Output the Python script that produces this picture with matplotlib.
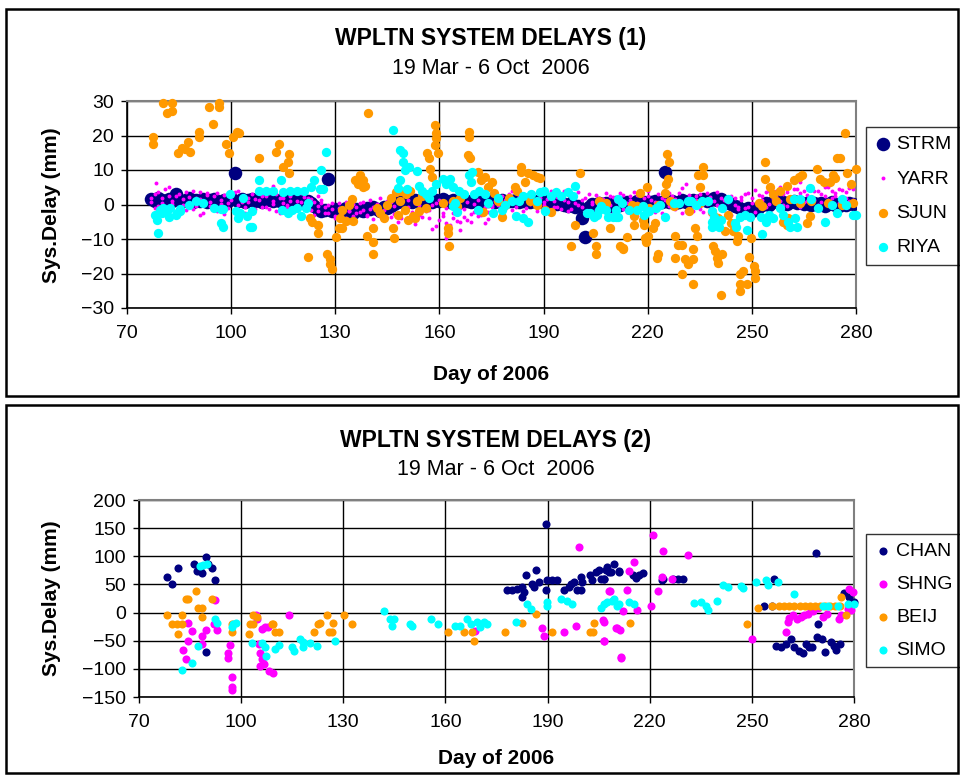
import matplotlib
matplotlib.use("Agg")
import matplotlib.pyplot as plt
from matplotlib.patches import Rectangle

plt.rcParams['font.family'] = ['Liberation Sans', 'DejaVu Sans']

# ---------------- panel 1 data ----------------
days1 = list(range(77, 280))

strm = [1.5, 1.0, 2.0, 1.2, 0.8, 1.6, 1.0, 3.0, 1.4, 0.9,
        1.2, 1.8, 0.7, 1.3, 1.0, 1.6, 0.8, 1.2, 1.5, 1.0,
        0.6, 1.3, 1.1, 1.8, 9.0, 1.0, 1.5, 0.8, 1.2, 1.7,
        1.0, 1.4, 0.6, 1.2, 1.5, 0.9, 1.3, 1.0, 1.6, 1.1,
        0.8, 1.4, 1.0, 1.2, 0.5, 0.9, 0.3, -0.5, -1.2, -1.8,
        -1.5, 7.5, -2.0, -1.4, -2.2, -1.6, -1.0, -1.8, -2.4, -1.2,
        -1.6, -2.0, -1.0, -1.4, -0.6, -1.2, -1.8, -0.8, -1.0, -0.4,
        0.2, 0.8, 1.0, 0.6, 1.2, 0.8, 1.4, 1.0, 0.7, 1.3,
        1.0, 0.6, 1.2, 0.9, 1.5, 1.0, 0.8, 1.3, 1.1, 0.7,
        1.2, 1.0, 0.8, 1.4, 1.0, 0.6, 1.1, 0.9, 1.3, 0.8,
        1.0, 1.2, 0.7, 1.1, 0.9, 1.3, 0.8, 1.0, 1.2, 0.6,
        1.0, 0.8, 1.2, 0.5, 0.9, 0.4, 0.8, 0.2, 0.6, 0.0,
        -0.5, 0.3, -0.8, -0.4, -3.8, -9.3, -0.6, 0.2, -0.3, 0.5,
        -0.2, 0.4, -0.5, 0.1, 0.6, -0.2, 0.3, 0.8, 0.2, 0.5,
        1.0, 0.4, 0.8, 0.2, 0.6, 1.0, 0.4, 0.8, 9.3, 0.6,
        1.0, 0.5, 0.8, 1.2, 0.6, 1.0, 1.4, 0.8, 1.2, 1.6,
        1.0, 1.4, 1.8, 1.2, 1.6, 1.0, 0.6, 0.2, -0.4, -0.8,
        -1.2, -1.6, -1.0, -1.8, -1.4, -0.6, -0.2, 0.4, 0.0, 0.6,
        1.0, 0.4, 0.8, 0.2, 0.6, 1.0, 0.3, 0.7, 0.2, 0.5,
        0.0, 0.4, -0.2, 0.3, -0.4, 0.2, 0.6, 0.0, -0.3, 0.4,
        0.0, 0.5, 0.2]

yarr_a = [2.0, -1.0, 3.5, 0.5, -2.0, 2.5, 1.0, -3.0, 3.0, 0.0,
          -1.5, 2.2, 4.0, -0.5, 1.5, -2.5, 2.8, 0.8, -1.0, 3.2,
          1.2, -2.8, 0.4, 2.6, -1.8, 3.8, 0.6, -0.8, 2.0, -2.2,
          1.6, 4.5, -0.6, 2.4, -1.4, 0.2, 3.0, -2.6, 1.8, 0.0,
          2.6, -1.2, 1.0, 3.4, -0.4, 2.0, -1.6, 0.6, -2.0, 1.4,
          -0.8, -2.4, 0.4, -3.2, -1.0, -2.6, 0.8, -1.8, -3.4, -0.6,
          -2.2, 0.6, -3.0, -1.2, -4.2, 0.2, -2.8, -1.6, 1.0, -3.6,
          -0.4, -5.0, 1.6, -2.0, -0.8, -4.6, 0.4, -3.0, 2.0, -1.4,
          -4.0, -0.2, -6.2, 1.2, -3.2, -5.4, 0.6, -2.4, -4.8, -1.0,
          -3.6, 0.8, -5.0, -2.2, 1.4, -3.0, -0.6, -4.2, 0.0, -1.8,
          2.2, -0.8, 1.2, 3.0, -1.6, 0.6, 2.4, -2.0, 1.8, 0.2,
          3.4, -0.4, 2.0, 0.8, -1.2, 2.6, 1.0, -0.6, 3.0, 1.4,
          -1.8, 2.4, 0.4, 3.6, -0.8, 1.8, -2.4, 0.8, 2.8, -1.0,
          1.6, 3.2, -0.2, 2.2, -1.4, 0.6, 2.8, -2.2, 1.2, 3.6,
          0.4, -3.4, 1.8, 2.6, -1.8, 0.8, 3.0, -2.6, 1.4, -0.4,
          2.4, -1.2, 0.2, 4.8, -2.0, 1.6, -0.6, 2.6, -1.4, 0.8,
          3.2, -2.8, 1.0, -0.2, 2.0, -1.6, 0.6, -3.0, 1.8, -0.8,
          2.2, -1.0, 3.4, 0.4, -2.2, 2.8, 1.2, 3.6, 0.2, 2.4,
          4.0, 1.0, 3.0, -0.4, 2.2, 4.4, 1.6, 3.2, 0.6, 2.8,
          4.6, 1.4, 3.8, 0.8, 2.6, 5.0, 1.8, 3.4, 0.4, 4.2,
          2.0, 4.8, 1.2]

yarr_b = [0.8, 3.0, -0.5, 1.8, 4.5, -1.5, 0.2, 2.4, -2.2, 1.6,
          3.6, 0.4, -1.2, 2.0, -3.0, 1.0, 3.4, -0.4, 2.6, -1.8,
          0.2, 2.8, -1.0, 1.4, 3.6, -0.2, 2.2, -2.4, 0.8, 3.0,
          -1.2, 1.2, 2.6, -0.8, 3.4, 1.0, -1.8, 2.0, 0.4, -0.6,
          1.0, 3.8, -0.2, 0.6, 2.2, -1.0, 1.6, -3.0, -0.4, 0.4,
          -2.6, 0.0, -1.4, -3.8, 0.4, -1.2, -4.0, -2.0, 0.2, -2.6,
          0.4, -1.6, -3.2, 1.2, -0.8, -2.6, 2.0, -4.4, -0.6, 0.8,
          -2.8, 0.6, -3.8, -1.2, 1.4, -2.2, -5.6, 0.0, -3.6, -2.0,
          -1.6, -7.0, 0.4, -4.4, -2.6, -1.0, -6.0, -3.8, -0.4, -5.2,
          -1.2, -4.6, -2.8, 0.2, -3.4, -1.6, -5.4, -2.2, -0.8, 1.0,
          0.0, 2.6, -1.4, 1.6, 3.8, -0.6, 0.8, 2.8, -1.0, 3.4,
          1.0, -1.8, 2.8, 0.0, 1.6, 4.0, -0.8, 2.2, -1.4, 3.8,
          0.6, -1.2, 2.6, -0.2, 1.4, -2.8, 3.0, 0.2, -1.6, 2.0,
          -0.6, 0.8, 2.4, -2.6, 1.0, 3.4, -1.2, 0.4, 2.6, -1.8,
          2.8, 0.2, -1.0, 3.8, 1.2, -2.2, 0.0, 2.0, -3.2, 3.2,
          -0.8, 1.6, 3.4, -2.4, 0.6, 2.8, -1.8, 1.2, 3.0, -2.2,
          0.2, 2.2, -1.6, 3.6, -0.4, 1.4, -2.6, 2.4, 0.0, -1.4,
          1.2, 3.0, -0.6, 1.8, 4.2, 0.0, 2.6, -0.8, 3.8, 1.6,
          2.4, 5.0, -0.2, 3.6, 1.2, 2.0, 4.6, -0.6, 3.8, 1.0,
          2.2, 4.0, -0.2, 3.0, 5.2, 1.2, 3.8, 2.4, 4.6, 0.8,
          3.6, 1.0, 4.4]

yarr_extra_day = [78.4, 82.0, 91.0, 112.0, 125.0, 162.0, 166.0, 231.0, 264.0]
yarr_extra_val = [6.1, 5.0, 3.5, 5.5, 2.5, -9.6, -7.5, 6.0, 6.5]

sjun = [(77.5, 19.5), (77.5, 17.5), (80.4, 29.4), (81.5, 26.5), (83, 29.4), (83, 27),
        (84.7, 14.9), (85.9, 16.3), (86.7, 16), (87.6, 18), (88.2, 15.2), (90.7, 21),
        (90.7, 19.5), (93.6, 28.3), (94.8, 23.3), (96.5, 29.4), (96.5, 28.3), (98.5, 17.5),
        (99.4, 14.9), (100.5, 19.5), (101.7, 21), (102.3, 20.7), (108, 13.4), (113, 15.2),
        (113.8, 17.5), (115, 11), (116.4, 12.2), (116.7, 14.6), (116.7, 9), (122.2, -15.2),
        (122.7, -4), (123.3, -5), (125, -5.8), (125, -8.2), (127.6, -14.3), (128.5, -15.7),
        (128.5, -17.2), (129, -18.7), (130.2, -9.3), (131, -6.7), (132, -6.7), (133, -4.7),
        (131.3, -4), (132, -1.7), (134, 0), (134.8, 1.5), (135, -4.7), (135.7, 7), (136.6, 6),
        (137.2, 8.5), (138.6, 5.5), (139.5, 26.5), (139, -9), (138, 7), (138, 5),
        (141, -6.7), (141, -10.8), (141, -14.3), (142, -1), (143, -2.5), (144, -4), (145, 0),
        (146, 2), (146.7, -6.7), (147, -9.6), (147.5, 3.5), (148, -3), (148.5, 1), (149, 4),
        (150, -1.5), (150.5, 3), (151, -4.5), (151.5, 4), (152.4, -3.2), (153, -4), (153.5, 1),
        (154, -2), (155, 2.5), (156, -1), (156.5, 14.9), (157, 13.4), (157.3, 10.2), (158, 7.9),
        (158.8, 23), (159, 20.7), (159, 19.2), (158.8, 17.2), (159.6, 14.9), (161, 0.3),
        (162.5, -6.7), (162.5, -8.2), (162.8, -12), (164, 1), (165, -0.5), (166, 2),
        (168.5, 21), (168.5, 19.5), (168.2, 14.3), (168.8, 13.4), (171, 9.3), (172, 7),
        (173, 8), (174, 5), (175, 6.5), (175.6, 3.2), (172.6, -2.3), (178, -3.5), (177, 1),
        (179, 0), (180, 2), (181.8, 5), (182.4, 4), (183.5, 11), (183.5, 9.3), (184.7, 6.4),
        (185.6, 9), (187, 8.5), (188.2, 7.9), (189, 7.6), (186, 1), (188, 0), (190.5, -1.7),
        (192, -2.3), (198, -12), (199, -5.8), (200.5, 9), (204.3, -8.2), (205, -12),
        (205, -14.3), (206, 1), (208, 0.5), (209, -6.7), (212, -12), (213, -12.5), (213, -13),
        (214, -9.3), (216, -5.8), (216, -3.2), (215.5, 0), (217, -0.5), (218.5, -4.4),
        (218.8, -5.8), (219.3, -9.6), (219.6, -11), (220, -9), (219.9, 5), (217.8, 3.2),
        (220.5, -1), (221.6, -6.7), (222.2, -5.5), (223, -14.3), (222.7, -15.5), (223, 0),
        (225.6, 14.6), (226.2, 12.2), (225.3, 6), (225.9, 7.3), (225, 3.2), (226.5, 1),
        (227.5, -0.5), (228, -9), (228.8, -11.7), (230, -11.7), (228, -15.5), (230, -20.1),
        (230.8, -15.7), (231.7, -17.2), (232, -2), (233.1, -15.7), (233.1, -12.8), (233.1, -23),
        (233.7, -6.7), (234.3, -9), (234.6, 8.5), (235, 5), (235, 0.5), (236, 11), (236, 8.5),
        (238.6, -2.3), (239.4, -3.5), (240.3, -4), (238.9, -12), (239.4, -13.4), (240.3, -16.9),
        (241.5, -14.3), (240, -15.5), (241.2, -26.2), (242.3, -7.6), (243, -3), (244, -5.5),
        (244.6, -7.6), (245.8, -10.5), (246, -9), (246.7, -20.1), (247.5, -19.2), (246.7, -23),
        (248.7, -23), (246.7, -25), (249.3, -15.2), (250.7, -17.8), (251, -19.2), (251, -21.3),
        (249.8, -9.6), (252, 0.5), (253.9, 12.2), (253.9, 7.3), (253, -0.3), (255.3, 5),
        (256, 3), (257, 1), (258, 4), (259, -5.2), (260, -6), (260.5, -4), (260, 5.5),
        (261, 1.5), (262, 7), (263.5, 8), (264.5, 8.5), (264, 0.5), (266, -5.5), (266.8, -3.2),
        (267, 1), (268.9, 10.2), (269.7, 7.3), (270.9, 6.4), (272, 0.5), (272.6, 6.4),
        (273.5, 8.5), (274, 7.6), (274.6, 13.4), (275.5, 13.4), (276, 0), (276.9, 20.7),
        (277.5, 9), (278.7, 6), (279.9, 10.2), (279, 0.5)]

riya = [(79, -8.2), (78, -3), (78.5, -4.5), (79.5, -1.5), (80, -2.5), (80.5, -1), (81.5, -2),
        (82, -3.5), (82.5, -1), (84, -3), (84.5, -2.5), (85.3, -1.2), (85.3, -2), (88, 0),
        (90, 1), (92, 0.5), (95, -1), (97, -5.5), (97.7, -6.4), (97, -1.2), (97.7, -1.2),
        (99.7, 3), (101.5, -2), (102, -4), (102.5, -2.5), (103.5, 2), (104.6, -3.2),
        (105.5, -6.4), (106, -6.4), (106, -2), (108, 7), (108, 4), (110, 4), (112, 4),
        (114.5, 7), (115, 3.5), (117, 4), (119, 4), (121, 4), (124, 7), (123, 5), (122, 0.5),
        (114.7, -1.7), (116.5, -2.5), (117.5, -1.7), (119, -1), (120, -3.2), (121.6, -1),
        (125.8, 10.1), (127.3, 15.1), (125.6, 4.6), (126.5, 4.6),
        (146.7, 21.6), (148.7, 15.7), (149.5, 14.9), (149.5, 12.2), (150, 10), (148.5, 7),
        (148, 4.7), (151.3, 10.8), (153.6, 9.6), (150.7, 4.5), (154, 5.5), (155, 4), (156, 3),
        (157, 2), (158, 4), (159, 6), (161, 7.5), (162, 6), (163, 7.5), (164, 5), (165.5, 4),
        (167, 3), (169, 6.5), (170, 3), (171.5, 4), (173, 3), (168.5, 8.5), (169.5, 9.5),
        (164, -0.3), (165, -2.3), (164.5, 0.5), (171, -1.5), (175.5, -2.5), (174, 0.5),
        (177, 2), (178, -1.5), (179, 0), (181, 1), (182, -3.2), (184, -3.8), (185.5, -5.2),
        (183, 1), (184, 2.5), (186.5, 3), (188, 1), (189, 3.5), (190, 4), (190.5, -2),
        (192, 2.5), (193.5, 3.5), (195, 2.5), (197, 3.5), (198.5, 2.5), (199, 5.5),
        (202.5, -2.6), (203.5, -2.6), (204.5, -3.5), (205.5, -3), (206.5, -0.5), (208, -1.5),
        (210, -3.5), (211, -1.5), (211.5, -3.5), (206, -1.5), (208.5, -3.6), (211, -3.6),
        (211.5, 1.5), (212.5, 0.5), (214.5, -1.5), (217, -1.5), (218.5, -0.5), (219, -3),
        (220.5, -2), (222.5, -1), (223.5, 0), (225, -3.5), (227.5, 0.5), (229, 0.5),
        (231.5, 1), (232.5, 1), (234, 0), (235.5, 1), (237.5, 1), (238.5, -2), (239, -3.5),
        (238.5, -5), (238.5, -6.5), (239.5, -5.5), (240.5, -6.5), (241, -4.5), (241.5, -1),
        (243, 1.5), (245, -5.5), (245.5, -6.5), (246.5, -3.5), (248, -3), (248.5, -7.5),
        (249.5, -3.5), (252.5, -3.5), (253, -8.5), (254, -5), (255, -3), (256, -4), (258, -1),
        (259, -3), (260.5, -5), (261, -6.5), (262.5, -4), (263, -6.5), (262, 1.5), (264, 1.5),
        (266.8, 4.7), (267, 1.5), (269, -1), (271, -5), (273, 0), (274.5, -2.5), (276, 1.5),
        (277, 0), (279, -3), (280, -3)]

# ---------------- panel 2 data ----------------
chan = [(78.2, 62.5), (79.7, 50), (81.5, 79), (86.2, 86), (87, 73), (88.5, 70), (88, 75),
        (89.7, 98), (90.3, 86), (91.5, 79), (92.4, 57), (89.7, -70),
        (189.4, 157), (178.2, 40.5), (179.6, 40.5), (181.1, 42.3), (182.6, 45), (183, 36),
        (182.6, 27), (183.7, 66), (186.5, 76), (185.5, 51), (186, 45), (187.4, 54),
        (189.4, 40.5), (189.9, 57), (191.4, 57), (192.8, 57), (194.8, 40.5), (196.2, 45),
        (196.8, 51), (197.7, 54), (198.7, 40.5), (199.7, 40.5), (199.7, 63), (200.2, 54),
        (202.6, 66), (203.1, 57), (204.1, 72), (205.1, 75), (205.6, 60), (206.6, 60),
        (207.1, 75), (207.6, 81), (208, 72), (209.5, 86), (211, 72), (206.5, 60), (208.5, 72),
        (210.9, 73), (215, 66), (215.9, 62), (216.8, 66), (218, 70), (223.5, 57), (223.8, 60),
        (226.8, 60), (228.2, 60), (229.7, 60), (253.5, 11), (256.5, 60), (255.9, 11),
        (268.8, 105), (269.4, -21), (257, -59), (258.6, -62), (260, -56), (261.5, -47),
        (262.5, -62), (263.9, -68), (264.9, -71), (265.9, -56), (266.8, -62), (267.8, -62),
        (269.2, -44), (270.7, -47), (271.6, -70), (273.1, -53), (274.1, -59), (274.6, -66),
        (276, -55), (277, 34), (278.5, 27), (280, 18)]

shng = [(84.3, -19), (85.5, -32), (84.3, -50), (83, -67), (83.7, -83), (88.4, -41),
        (89.7, -31), (88.4, -55), (92.4, 23), (92, -20), (93, -31), (96.8, -57), (96, -71),
        (96, -80), (97.3, -115), (97.3, -132), (97.3, -138), (104.3, -5), (104.6, -11),
        (106.1, -29), (107, -25), (108, -26), (105.3, -55), (105.4, -71), (106.1, -83),
        (105.4, -95), (106.8, -92), (108.3, -104), (109.5, -108), (114.2, -5), (168.8, -32),
        (188.4, -27), (188.9, -41), (194.8, -34), (198.4, -24), (199.2, 117), (206.6, -16),
        (206.6, -50), (208.3, 38), (210.5, -27), (211.5, -80), (208, 37.5), (213.4, 40.5),
        (213.9, 73), (215.4, 89), (212.3, 2), (216.4, 5), (206.4, -14), (210, -27),
        (211.2, -31), (206.6, -51), (211.7, -79), (221.1, 137), (224, 109), (231.1, 102),
        (223.5, 63), (226.5, 60), (222.3, 37.5), (220.5, 11), (250, -47), (260, -35),
        (260.5, -17), (262, -5), (263.4, -11), (264.4, -8), (265.4, -5), (267.4, 7),
        (269.3, 9), (270.8, -8), (275.7, -11), (276.2, -5), (278.1, 7), (278.6, 42),
        (279.6, 36), (279.1, 4), (261, -10), (266.5, -2), (268, 2), (272, -3)]

beij = [(78.3, -5), (79.6, -21), (81.4, -38), (82.6, -5), (82.6, -21), (81.1, -21),
        (83.8, 24), (84.5, 24), (86.8, 37.5), (87.2, 8), (88.4, 8), (88.4, -8), (91.4, 24),
        (97.3, -21), (97.3, -35), (103.6, -5), (104.6, -7), (102.6, -21), (103.6, -21),
        (102.4, -38), (109, -21), (109.5, -21), (110, -35), (111, -35), (121.3, -35),
        (122.7, -21), (123.2, -19), (125.2, -5), (127.1, -19), (125.7, -35), (126.7, -35),
        (130.1, -5), (132.6, -21), (160.7, -34), (165.4, -34), (167.8, -34), (168.3, -50),
        (177.6, -34), (182.6, -18), (186.7, -2), (191.2, -34), (202.4, -34), (203.6, -18),
        (203.4, -34), (214.1, -18), (248.7, -21), (251.7, 8), (255.8, 11), (258, 11),
        (259.5, 11), (261, 11), (262.5, 11), (264, 11), (265.5, 11), (267, 11), (268.5, 11),
        (270, 11), (271.5, 11), (273, 11), (274.5, 11), (276, 11), (277.6, -5), (276.2, 27)]

simo = [(88.9, 84), (90.1, 86), (87.9, 82), (92.4, -11), (93, -19), (87.4, -59), (85.5, -89),
        (82.6, -102), (97.3, -26), (97.7, -20), (98.5, -18), (103.1, -54), (106.1, -54),
        (107, -62), (107.4, -77), (110, -65), (111, -57), (114.9, -62), (115.4, -69),
        (117.4, -47), (118.3, -53), (118.3, -62), (120.3, -54), (122.3, -59), (127.6, -50),
        (141.9, 2), (143.8, -11), (144.8, -11), (144.3, -23), (149.7, -20), (150.2, -23),
        (155.8, -11), (157.7, -20), (162.9, -23), (164.4, -23), (166.4, -11), (167.4, -20),
        (169.3, -17), (170.3, -26), (171.3, -16), (172.3, -20), (180.6, -17), (184, 16),
        (185, 7), (189.9, 18), (189.9, 12), (193.8, 24), (195.8, 21), (197.3, 16), (205.6, 9),
        (207.6, 18), (209.5, 24), (211, 16), (206.6, 16), (209, 21), (210.5, 12), (213.9, 18),
        (215.4, 16), (233, 17), (235, 18), (236.5, 12), (237, 4), (239.9, 21), (241.4, 49),
        (242.9, 46), (246.8, 48), (247.3, 43), (251.2, 54), (254.1, 57), (254.6, 49),
        (257.6, 54), (262.4, 33), (270.8, 12), (272.3, 11), (275.2, 12), (278.1, 16), (280, 16)]

xticks = [70, 100, 130, 160, 190, 220, 250, 280]
yticks1 = [-30, -20, -10, 0, 10, 20, 30]
yticks2 = [-150, -100, -50, 0, 50, 100, 150, 200]

NAVY = '#000080'
MAG = '#FF00FF'
ORG = '#FF9900'
CYAN = '#00FFFF'

W, H = 960, 776
fig = plt.figure(figsize=(W / 100, H / 100), dpi=100)


def fx(px):
    return px / W


def fy(py):
    return 1 - py / H


# panel frames
for (x0, y0, x1, y1) in [(6, 9, 958, 396), (6, 405, 958, 773)]:
    fig.patches.append(Rectangle((fx(x0), fy(y1)), fx(x1 - x0), (y1 - y0) / H,
                                 transform=fig.transFigure, fill=False,
                                 edgecolor='black', linewidth=1.8))


def style_axes(ax, yticks):
    ax.set_xlim(70, 280)
    ax.set_ylim(yticks[0], yticks[-1])
    ax.set_xticks(xticks)
    ax.set_yticks(yticks)
    ax.grid(True, color='black', linewidth=1.0)
    ax.set_axisbelow(True)
    ax.tick_params(direction='out', length=4.3, width=1, labelsize=14)
    ax.tick_params(axis='x', pad=8)
    ax.tick_params(axis='y', pad=5)
    for s in ['top', 'right']:
        ax.spines[s].set_color('#808080')
        ax.spines[s].set_linewidth(1.5)
    for s in ['left', 'bottom']:
        ax.spines[s].set_color('black')
        ax.spines[s].set_linewidth(1.2)


def leg(ax, top, spacing):
    lg = ax.legend(loc='upper left', bbox_to_anchor=(fx(866), fy(top)),
                   bbox_transform=fig.transFigure, frameon=True, fancybox=False,
                   edgecolor='black', fontsize=14, labelspacing=spacing,
                   handletextpad=0.3, borderpad=0.45, handlelength=0.8,
                   borderaxespad=0)
    lg.get_frame().set_linewidth(1.0)


# ---------------- panel 1 ----------------
ax1 = fig.add_axes([fx(127), fy(308), fx(856 - 127), (308 - 101) / H])
ax1.scatter(days1, strm, s=95, color=NAVY, label='STRM', zorder=3, linewidths=0)
ax1.scatter(days1 + days1 + yarr_extra_day, yarr_a + yarr_b + yarr_extra_val,
            s=8, color=MAG, label='YARR', zorder=4, linewidths=0)
ax1.scatter([d for d, v in sjun], [v for d, v in sjun], s=45, color=ORG,
            label='SJUN', zorder=5, linewidths=0, clip_on=False)
ax1.scatter([d for d, v in riya], [v for d, v in riya], s=45, color=CYAN,
            label='RIYA', zorder=6, linewidths=0, clip_on=False)
style_axes(ax1, yticks1)
leg(ax1, 127, 0.85)

fig.text(fx(491), fy(38), 'WPLTN SYSTEM DELAYS (1)', ha='center', va='center',
         fontsize=16.5, fontweight='bold')
fig.text(fx(491), fy(69), '19 Mar - 6 Oct  2006', ha='center', va='center', fontsize=15.5)
fig.text(fx(491), fy(374), 'Day of 2006', ha='center', va='center',
         fontsize=15, fontweight='bold')
fig.text(fx(52), fy(205), 'Sys.Delay (mm)', ha='center', va='center',
         rotation=90, fontsize=15, fontweight='bold')

# ---------------- panel 2 ----------------
ax2 = fig.add_axes([fx(139), fy(697), fx(854 - 139), (697 - 500) / H])
for data, col, lab, z in [(chan, NAVY, 'CHAN', 3), (shng, MAG, 'SHNG', 4),
                          (beij, ORG, 'BEIJ', 5), (simo, CYAN, 'SIMO', 6)]:
    ax2.scatter([d for d, v in data], [v for d, v in data], s=34, color=col,
                label=lab, zorder=z, linewidths=0, clip_on=False)
style_axes(ax2, yticks2)
leg(ax2, 534, 0.78)

fig.text(fx(496), fy(440), 'WPLTN SYSTEM DELAYS (2)', ha='center', va='center',
         fontsize=16.5, fontweight='bold')
fig.text(fx(496), fy(470), '19 Mar - 6 Oct  2006', ha='center', va='center', fontsize=15.5)
fig.text(fx(496), fy(758), 'Day of 2006', ha='center', va='center',
         fontsize=15, fontweight='bold')
fig.text(fx(52), fy(598), 'Sys.Delay (mm)', ha='center', va='center',
         rotation=90, fontsize=15, fontweight='bold')

fig.savefig('out.png', dpi=100)
